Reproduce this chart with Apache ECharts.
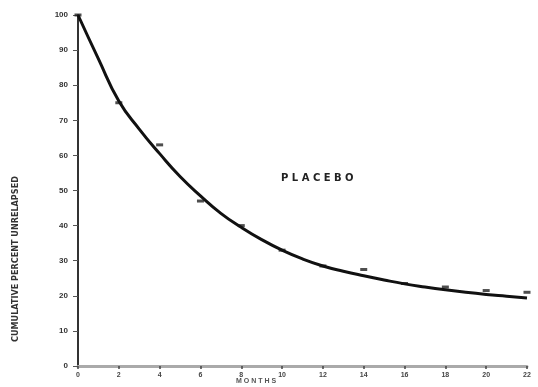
<!DOCTYPE html>
<html>
<head>
<meta charset="utf-8">
<script src="https://cdn.jsdelivr.net/npm/echarts@6/dist/echarts.min.js"></script>
<style>
  html, body { margin: 0; padding: 0; background: #fff; }
  #chart { width: 538px; height: 387px; }
</style>
</head>
<body>
<div id="chart"></div>
<script>
// observed points (months, percent unrelapsed)
const months = [0, 2, 4, 6, 8, 10, 12, 14, 16, 18, 20, 22];
const observed = [100, 75, 63, 47, 40, 33, 28.5, 27.5, 23.5, 22.5, 21.5, 21];

// fitted curve
const curveMonths = [0, 1, 2, 3, 4, 5, 6, 7, 8, 9, 10, 11, 12, 13, 14, 15, 16, 17, 18, 19, 20, 21, 22];
const curveValues = [100, 87.5, 75.5, 67.5, 60.5, 54, 48.5, 43.5, 39.5, 36, 33, 30.5, 28.5, 27, 25.7, 24.5, 23.4, 22.5, 21.7, 21, 20.4, 19.9, 19.4];

const myChart = echarts.init(document.getElementById('chart'));
const option = {
  animation: false,
  grid: {left: 78, right: 11, top: 15, bottom: 21},
  xAxis: {
    type: 'value',
    min: 0,
    max: 22,
    interval: 2,
    splitLine: {show: false},
    axisLine: {lineStyle: {color: '#aaa', width: 3}},
    axisTick: {length: 3, lineStyle: {color: '#444', width: 1.5}},
    axisLabel: {fontSize: 7, fontWeight: 'bold', color: '#444', margin: 6}
  },
  yAxis: {
    type: 'value',
    min: 0,
    max: 100,
    interval: 10,
    splitLine: {show: false},
    axisLine: {lineStyle: {color: '#333', width: 2}},
    axisTick: {length: 5, lineStyle: {color: '#555', width: 1}},
    axisLabel: {fontSize: 8, fontWeight: 'bold', color: '#333', margin: 10}
  },
  graphic: [
    {
      type: 'text', left: 281, top: 173,
      style: {text: 'P L A C E B O', fontSize: 10, fontWeight: 'bold', fill: '#222', fontFamily: 'DejaVu Sans'}
    },
    {
      type: 'text', left: 236, top: 378,
      style: {text: 'M O N T H S', fontSize: 7, fontWeight: 'bold', fill: '#555'}
    },
    {
      type: 'text', x: 16, y: 342, rotation: Math.PI / 2,
      style: {text: 'CUMULATIVE PERCENT UNRELAPSED', fontSize: 9, fontWeight: 'bold', fill: '#333', align: 'left', verticalAlign: 'middle', fontFamily: 'DejaVu Sans Condensed'}
    }
  ],
  series: [
    {
      type: 'line',
      data: curveMonths.map((m, i) => [m, curveValues[i]]),
      smooth: true,
      showSymbol: false,
      lineStyle: {color: '#111', width: 3}
    },
    {
      type: 'scatter',
      data: months.map((m, i) => [m, observed[i]]),
      symbol: 'rect',
      symbolSize: [7, 3],
      itemStyle: {color: '#222'}
    }
  ]
};
myChart.setOption(option);
</script>
</body>
</html>
